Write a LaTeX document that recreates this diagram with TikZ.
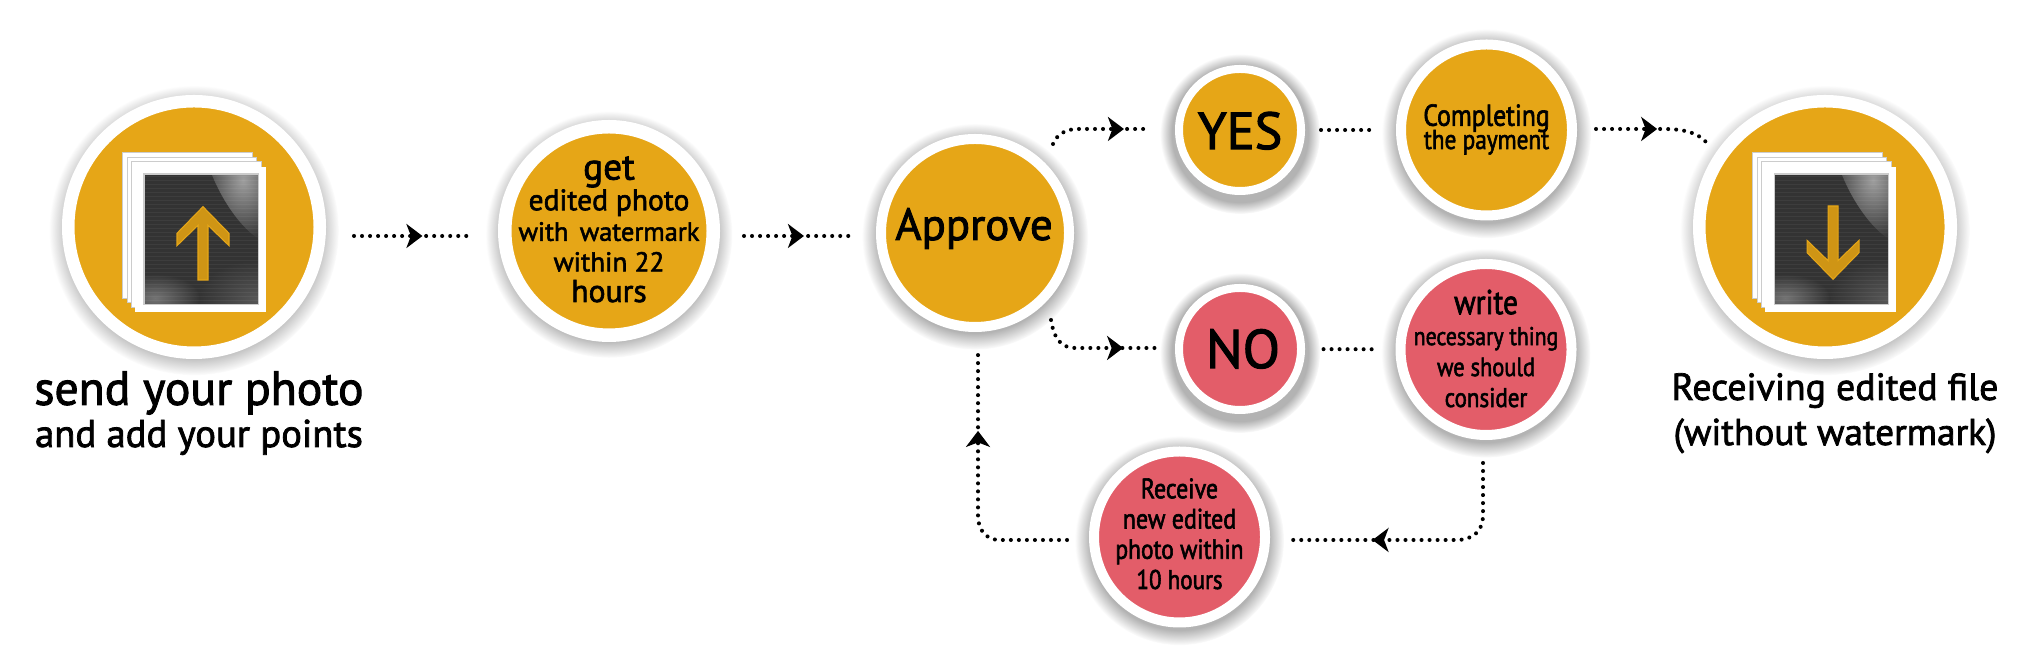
\documentclass[tikz,border=0pt]{standalone}
\usepackage{fontspec}
\setmainfont{PT Sans}
\newfontfamily\heavy[FakeBold=2]{PT Sans}
\newfontfamily\narrow[FakeBold=2,FakeStretch=0.85]{PT Sans}
\usetikzlibrary{arrows.meta,shadows,decorations.markings}
\definecolor{okfill}{HTML}{E6A617}
\definecolor{nofill}{HTML}{E35D69}
\def\fs#1{\fontsize{#1}{\baselineskip}\selectfont}
\tikzset{
	dot/.style 2 args={circle,draw=white,minimum size=#1*0.01cm,line width=#2*0.01cm,
		circular drop shadow={shadow xshift=0pt,shadow yshift=-.3mm,shadow scale={1+38/#1},opacity=.6}},
	okdot/.style={fill=okfill},
	nodot/.style={fill=nofill},
	txt/.style={align=center,inner sep=0pt,anchor=base,font={\heavy\fontsize{10}{#1pt}\selectfont\lineskiplimit-30pt }},
	slimtxt/.style={align=center,inner sep=0pt,anchor=base,font={\narrow\fontsize{10}{#1pt}\selectfont\lineskiplimit-30pt }},
	link/.style={line width=1.15pt,line cap=round,dash pattern=on 0pt off 2.28pt},
	arrowat/.style={postaction={decorate,decoration={markings,mark=at position #1 with {\arrow{Stealth[length=1.6mm,width=2.4mm,inset=.45mm]}}}}},
	sheet/.style={fill=white,draw=black!20,line width=.25pt},
	arrowicon/.style={fill=okfill!90!black,draw=okfill,line width=.3pt}
}
% photo pile with its arrow: shift in x, then 1 for up or -1 for down
\def\photostack(#1)(#2){
	\begin{scope}[xshift=#1*0.01cm]
		\draw[sheet] (122.7,152.7) rectangle (252.7,298);
		\draw[sheet] (127,157.3) rectangle (256.7,302.7);
		\draw[sheet] (131,161.7) rectangle (261,307.3);
		\fill[white] (135.3,166.7) rectangle (265.7,311.7);
		\begin{scope}
			\clip (144,174) rectangle (258.3,304.3);
			\fill[black!80] (144,174) rectangle (258.3,304.3);
			\shade[inner color=black!66,outer color=black!80] (258,300) ellipse (60 and 40);
			\shade[inner color=black!55,outer color=black!80] (155,298) ellipse (45 and 24);
			\shade[inner color=black!38,outer color=black!80,rotate around={-62:(243,180)}] (243,180) ellipse (70 and 26);
			\foreach \y in {176,180,...,304}
				\draw[white,opacity=.05,line width=.25pt] (144,\y) -- (258.3,\y);
		\end{scope}
		\draw[black!20,line width=.3pt] (144,174) rectangle (258.3,304.3);
		\begin{scope}[shift={(203,243)},yscale=#2]
			\draw[arrowicon] (0,-36.3) -- (26,-9.7) -- (26,2.7) -- (5,-17.7) -- (5,37) -- (-5,37) -- (-5,-17.7) -- (-26,2.7) -- (-26,-9.7) -- cycle;
		\end{scope}
	\end{scope}
}

\begin{document}
\begin{tikzpicture}[x=0.01cm,y=-0.01cm]
	\useasboundingbox (0,0) rectangle (2019,662);

	% the circles
	\node[dot={251.5}{12.5},okdot] (send) at (194,227) {};
	\node[dot={208.5}{13.5},okdot] (get) at (609,231) {};
	\node[dot={188}{10},okdot] (approve) at (975,233) {};
	\node[dot={122}{8},okdot] (yes) at (1240,130) {};
	\node[dot={171}{10},okdot] (pay) at (1486.5,130) {};
	\node[dot={122}{8},nodot] (no) at (1240,349) {};
	\node[dot={171}{10},nodot] (write) at (1486,349.5) {};
	\node[dot={171}{10},nodot] (receive) at (1179.5,537) {};
	\node[dot={251.5}{12.5},okdot] (result) at (1825,227) {};

	\photostack(0)(1)
	\photostack(1630)(-1)

	% the texts
	\node[txt=12] (sendtext) at (199,447) {\fs{13.55}send your photo\\\fs{11}and add your points};
	\node[txt=8.7] (gettext) at (609,302) {\fs{10.6}get\\\fs{8.4}edited photo\\\fs{7.5}with\, watermark\\\fs{7.75}within 22\\\fs{9}hours};
	\node[txt=13] (approvetext) at (974,240) {\fs{12.75}Approve};
	\node[txt=15] (yestext) at (1240,149) {\fs{14.8}YES};
	\node[txt=15] (notext) at (1243,368) {\fs{15.5}NO};
	\node[slimtxt=6.6] (paytext) at (1486.5,149) {\fs{8.6}Completing\\\fs{7.8}the payment};
	\node[slimtxt=8.8] (writetext) at (1486,407) {\fs{9.8}write\\\fs{7.3}necessary thing\\\fs{7.5}we should\\\fs{7.7}consider};
	\node[slimtxt=8.6] (receivetext) at (1179.5,589) {\fs{8}Receive\\\fs{8}new edited\\\fs{7.85}photo within\\\fs{7.7}10 hours};
	\node[txt=12.8] (resulttext) at (1835,445) {\fs{10.75}Receiving edited file\\\fs{10.6}(without watermark)};

	% the dotted connectors
	\coordinate (sendout) at (354,236);
	\coordinate (getin) at (472,236);
	\coordinate (getout) at (744,236);
	\coordinate (approvein) at (853,236);
	\coordinate (yesout) at (1053,144);
	\coordinate (yesin) at (1151,129);
	\coordinate (noout) at (1051,320);
	\coordinate (noin) at (1156,348);
	\coordinate (payout) at (1596,129);
	\coordinate (resultin) at (1706,142);
	\coordinate (writeout) at (1483,463);
	\coordinate (receivein) at (1291,540);
	\coordinate (receiveout) at (1067,540);
	\coordinate (approveback) at (978,350);

	\draw[link,arrowat=.58] (sendout) -- (getin);
	\draw[link,arrowat=.55] (getout) -- (approvein);
	\draw[link,arrowat=.74] (yesout) .. controls (1057,134) and (1066,129) .. (1078,129) -- (yesin);
	\draw[link,shorten <=1.6mm,shorten >=2.5mm] (yes) -- (pay);
	\draw[link,arrowat=.54] (payout) -- (1663,129) .. controls (1682,129) and (1697,132) .. (resultin);
	\draw[link,arrowat=.73] (noout) .. controls (1054,338) and (1060,348) .. (1076,348) -- (noin);
	\draw[link,shorten <=1.85mm,shorten >=2mm] (no) -- (write);
	\draw[link,arrowat=.685] (writeout) -- (1483,515) .. controls (1483,532) and (1472,540) .. (1456,540) -- (receivein);
	\draw[link,arrowat=.7] (receiveout) -- (1000,540) .. controls (986,540) and (978,530) .. (978,516) -- (approveback);
\end{tikzpicture}
\end{document}
